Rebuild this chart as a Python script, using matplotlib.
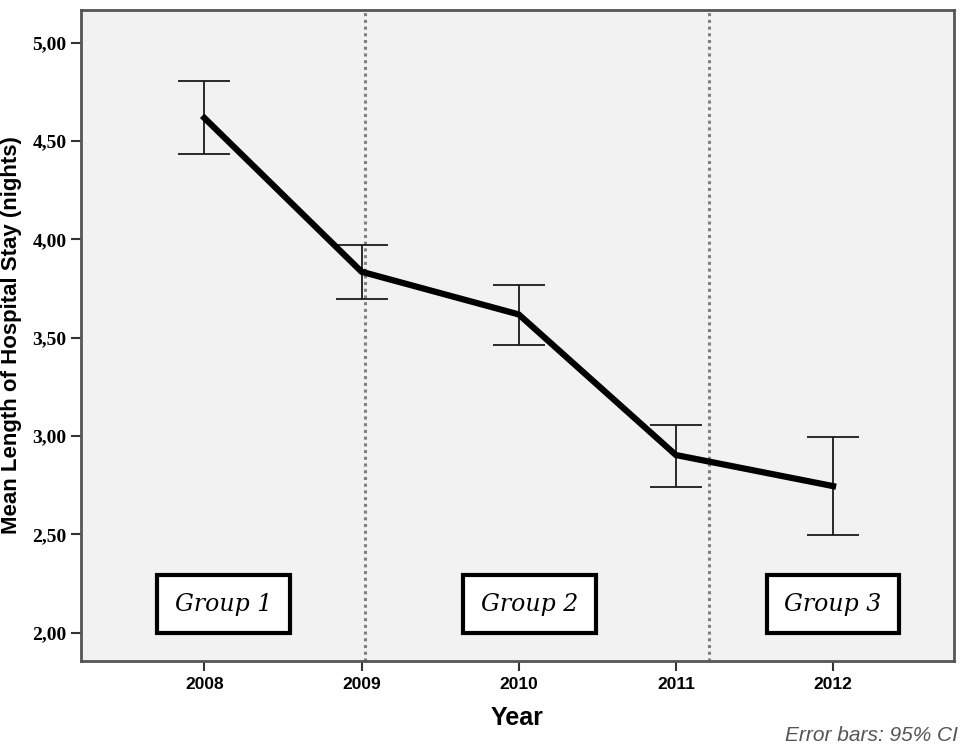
import matplotlib
matplotlib.use('Agg')
import matplotlib.pyplot as plt
import numpy as np

years = [2008, 2009, 2010, 2011, 2012]
means = [4.617, 3.835, 3.618, 2.903, 2.745]
ci_low = [4.434, 3.695, 3.462, 2.742, 2.496]
ci_high = [4.805, 3.971, 3.769, 3.054, 2.994]

group_names = ['Group 1', 'Group 2', 'Group 3']
group_centers = [2008.12, 2010.07, 2012.0]
group_breaks = [2009.025, 2011.21]

fig = plt.figure(figsize=(9.6, 7.47), dpi=100)
ax = fig.add_axes([0.0844, 0.1155, 0.9094, 0.8711])
ax.set_facecolor('#f2f2f2')

means = np.array(means)
yerr = np.array([means - np.array(ci_low), np.array(ci_high) - means])

for xb in group_breaks:
    ax.axvline(xb, color='#808080', linestyle=(0, (1, 1.2)), linewidth=2.2, zorder=1)

ax.errorbar(years, means, yerr=yerr, fmt='none', ecolor='#1a1a1a',
            elinewidth=1.3, capsize=19, capthick=1.3, zorder=2)
ax.plot(years, means, color='black', linewidth=4.5, solid_joinstyle='miter', zorder=3)

for name, xc in zip(group_names, group_centers):
    ax.text(xc, 2.145, name, ha='center', va='center', fontsize=17,
            family='DejaVu Serif', style='italic', zorder=4,
            bbox=dict(boxstyle='square,pad=0.75', facecolor='white',
                      edgecolor='black', linewidth=3))

ax.set_xlim(2007.215, 2012.77)
ax.set_ylim(1.857, 5.166)
ax.set_xticks(years)
ax.set_xticklabels([str(y) for y in years], fontweight='bold', fontsize=12.5,
                   family='Liberation Sans')
yt = [2.0, 2.5, 3.0, 3.5, 4.0, 4.5, 5.0]
ax.set_yticks(yt)
ax.set_yticklabels([f'{v:.2f}'.replace('.', ',') for v in yt], fontweight='bold',
                   fontsize=14, family='Liberation Serif')
ax.tick_params(axis='both', direction='out', length=7, width=1.5, color='#333333')
ax.tick_params(axis='x', pad=5)

for s in ax.spines.values():
    s.set_color('#555555')
    s.set_linewidth(2)

ax.set_xlabel('Year', fontsize=18, fontweight='bold', family='Liberation Sans', labelpad=10)
ax.set_ylabel('Mean Length of Hospital Stay (nights)', fontsize=16, fontweight='bold',
              family='Liberation Sans', labelpad=7)

fig.text(0.998, 0.003, 'Error bars: 95% CI', ha='right', va='bottom', fontsize=15,
         style='italic', color='#555555', family='Liberation Sans')

fig.savefig('out.png', dpi=100)
